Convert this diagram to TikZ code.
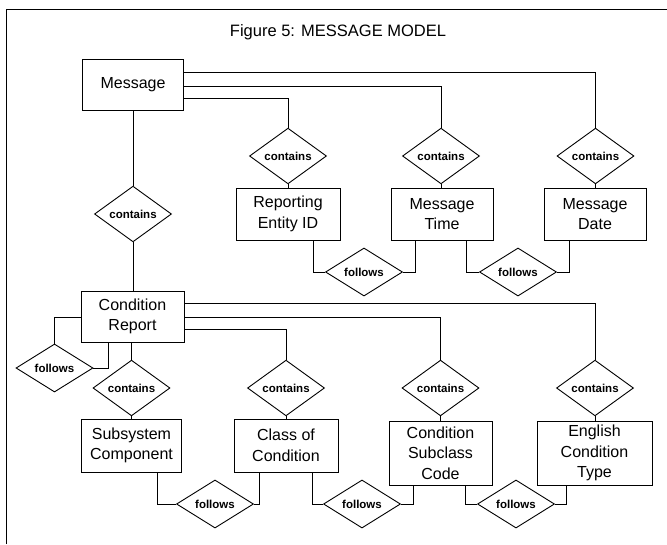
\documentclass[tikz,border=0pt]{standalone}
\usepackage{fontspec}
\setmainfont{Liberation Sans}
\usetikzlibrary{shapes.geometric}
\begin{document}
\begin{tikzpicture}[x=1pt,y=-1pt, line width=0.9pt,
 entity/.style={draw, rectangle, align=center, inner sep=0pt, minimum height=52pt, font=\fontsize{16}{20.5}\selectfont},
 rel/.style={draw, diamond, inner sep=0pt, minimum width=77pt, minimum height=37pt, font=\fontsize{11.5}{13}\selectfont\bfseries}]
\useasboundingbox (0,0) rectangle (667,544);
\draw (6,544) -- (6,9) -- (667,9);
\node[font=\fontsize{16.5}{20}\selectfont] (title) at (338,32) {Figure 5: MESSAGE MODEL};
% entities
\node[entity, minimum width=101pt, minimum height=51pt] (msg) at (133,84.5) {Message};
\node[entity, minimum width=104pt] (rep) at (288,214) {Reporting\\Entity ID};
\node[entity, minimum width=102pt] (mtime) at (442,214) {Message\\Time};
\node[entity, minimum width=102pt] (mdate) at (595,214) {Message\\Date};
\node[entity, minimum width=103pt, minimum height=51pt] (cr) at (132.5,316.5) {Condition\\Report};
\node[entity, minimum width=100pt, minimum height=53pt] (sub) at (131.5,445.5) {Subsystem\\Component};
\node[entity, minimum width=104pt, minimum height=53pt] (cls) at (286,445.5) {Class of\\Condition};
\node[entity, minimum width=103pt, minimum height=64pt] (csc) at (440.5,453) {Condition\\Subclass\\Code};
\node[entity, minimum width=115pt, minimum height=64pt] (ect) at (594.5,453) {English\\Condition\\Type};
% relationships
\node[rel] (c0) at (133,214) {contains};
\node[rel] (c1) at (288,156) {contains};
\node[rel] (c2) at (441,156) {contains};
\node[rel] (c3) at (595.5,156) {contains};
\node[rel] (f1) at (364,272) {follows};
\node[rel] (f2) at (518,272) {follows};
\node[rel] (fl) at (54.5,368) {follows};
\node[rel] (c4) at (131.5,388) {contains};
\node[rel] (c5) at (286,388) {contains};
\node[rel] (c6) at (440.5,388) {contains};
\node[rel] (c7) at (595,388) {contains};
\node[rel] (f3) at (215,504) {follows};
\node[rel] (f4) at (362,504) {follows};
\node[rel] (f5) at (516,504) {follows};
% connectors from Message
\draw ([yshift=12.5pt]msg.east) -| (c3.north);
\draw ([yshift=-1.5pt]msg.east) -| (c2.north);
\draw ([yshift=-13.5pt]msg.east) -| (c1.north);
\draw (msg.south) -- (c0.north);
\draw (c0.south) -- (c0.south |- cr.north);
\draw (c1.south) -- (rep.north -| c1.south);
\draw (c2.south) -- (mtime.north -| c2.south);
\draw (c3.south) -- (mdate.north -| c3.south);
\draw ([xshift=25pt]rep.south) |- (f1.west);
\draw ([xshift=-27pt]mtime.south) |- (f1.east);
\draw ([xshift=24pt]mtime.south) |- (f2.west);
\draw ([xshift=-26pt]mdate.south) |- (f2.east);
% connectors from Condition Report
\draw ([yshift=13.5pt]cr.east) -| (c7.north);
\draw ([yshift=-0.5pt]cr.east) -| (c6.north);
\draw ([yshift=-12.5pt]cr.east) -| (c5.north);
\draw ([yshift=-0.5pt]cr.west) -| (fl.north);
\draw ([xshift=-24.5pt]cr.south) |- (fl.east);
\draw (c4.north |- cr.south) -- (c4.north);
\draw (c4.south) -- (sub.north -| c4.south);
\draw (c5.south) -- (cls.north -| c5.south);
\draw (c6.south) -- (csc.north -| c6.south);
\draw (c7.south) -- (ect.north -| c7.south);
\draw ([xshift=26pt]sub.south) |- (f3.west);
\draw ([xshift=-27pt]cls.south) |- (f3.east);
\draw ([xshift=26pt]cls.south) |- (f4.west);
\draw ([xshift=-27.5pt]csc.south) |- (f4.east);
\draw ([xshift=24.5pt]csc.south) |- (f5.west);
\draw ([xshift=-28.5pt]ect.south) |- (f5.east);
\end{tikzpicture}
\end{document}
